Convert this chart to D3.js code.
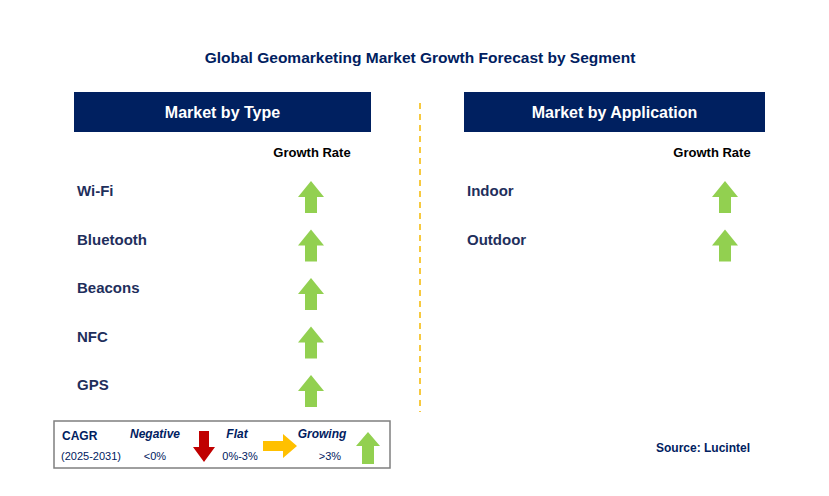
<!DOCTYPE html>
<html>
<head>
<script src="https://cdnjs.cloudflare.com/ajax/libs/d3/7.8.5/d3.min.js"></script>
<style>
  body { margin: 0; background: #fff; }
  svg { font-family: Arial, 'Liberation Sans', sans-serif; }
</style>
</head>
<body>
<svg id="chart" width="829" height="496"></svg>
<script>
  var typeSegments = ["Wi-Fi", "Bluetooth", "Beacons", "NFC", "GPS"];
  var typeGrowth = ["up", "up", "up", "up", "up"];
  var appSegments = ["Indoor", "Outdoor"];
  var appGrowth = ["up", "up"];

  var navy = "#002060";
  var svg = d3.select("#chart");

  svg.append("text").attr("x", 420).attr("y", 63).attr("text-anchor", "middle")
    .attr("font-size", 15.5).attr("font-weight", "bold").attr("fill", navy)
    .text("Global Geomarketing Market Growth Forecast by Segment");

  // divider
  svg.append("line").attr("x1", 420).attr("x2", 420).attr("y1", 103).attr("y2", 412)
    .attr("stroke", "#f5b800").attr("stroke-width", 1.5).attr("stroke-dasharray", "6,5");

  // up arrow, centred on (0,0)
  function upArrow(g, color) {
    g.append("path")
      .attr("d", "M0,-16 L13,0 L6,0 L6,16 L-6,16 L-6,0 L-13,0 Z")
      .attr("fill", color);
  }

  function panel(x0, x1, title, cats, growth, arrowX, headX) {
    svg.append("rect").attr("x", x0).attr("y", 92).attr("width", x1 - x0).attr("height", 40)
      .attr("fill", navy);
    svg.append("text").attr("x", (x0 + x1) / 2).attr("y", 118).attr("text-anchor", "middle")
      .attr("font-size", 16).attr("font-weight", "bold").attr("fill", "#fff").text(title);
    svg.append("text").attr("x", headX).attr("y", 157).attr("text-anchor", "middle")
      .attr("font-size", 13).attr("font-weight", "bold").attr("fill", "#000").text("Growth Rate");

    var y = d3.scaleLinear().domain([0, 1]).range([191, 239.5]);
    cats.forEach(function(c, i) {
      svg.append("text").attr("x", x0 + 3).attr("y", y(i) + 5)
        .attr("font-size", 15).attr("font-weight", "bold").attr("fill", "#1f2f5c").text(c);
      var g = svg.append("g").attr("transform", "translate(" + arrowX + "," + (y(i) + 6) + ")");
      if (growth[i] === "up") upArrow(g, "#92d050");
    });
  }

  panel(74, 371, "Market by Type", typeSegments, typeGrowth, 311, 312);
  panel(464, 765, "Market by Application", appSegments, appGrowth, 725, 712);

  // legend
  svg.append("rect").attr("x", 54).attr("y", 421).attr("width", 336).attr("height", 47)
    .attr("fill", "#fff").attr("stroke", "#7f7f7f").attr("stroke-width", 1.5);
  function t(x, y, s, opts) {
    var e = svg.append("text").attr("x", x).attr("y", y).attr("font-size", opts.size || 12)
      .attr("fill", opts.fill || navy).text(s);
    if (opts.bold) e.attr("font-weight", "bold");
    if (opts.italic) e.attr("font-style", "italic");
    if (opts.anchor) e.attr("text-anchor", opts.anchor);
  }
  t(62, 440, "CAGR", {bold: true, size: 12});
  t(61, 460, "(2025-2031)", {size: 11});
  t(155, 438, "Negative", {bold: true, italic: true, anchor: "middle"});
  t(155, 460, "<0%", {size: 11, anchor: "middle"});
  t(237, 438, "Flat", {bold: true, italic: true, anchor: "middle"});
  t(240, 460, "0%-3%", {size: 11, anchor: "middle"});
  t(322, 438, "Growing", {bold: true, italic: true, anchor: "middle"});
  t(330, 460, ">3%", {size: 11, anchor: "middle"});
  svg.append("path").attr("transform", "translate(204,446)")
    .attr("d", "M-5,-15 L5,-15 L5,1 L11,1 L0,16 L-11,1 L-5,1 Z").attr("fill", "#c00000");
  svg.append("path").attr("transform", "translate(280,446)")
    .attr("d", "M-17,-5 L3,-5 L3,-12 L17,0 L3,12 L3,5 L-17,5 Z").attr("fill", "#ffc000");
  svg.append("path").attr("transform", "translate(368,448)")
    .attr("d", "M0,-16 L12,-2 L6,-2 L6,16 L-6,16 L-6,-2 L-12,-2 Z").attr("fill", "#92d050");

  svg.append("text").attr("x", 750).attr("y", 452).attr("text-anchor", "end")
    .attr("font-size", 12).attr("font-weight", "bold").attr("fill", navy).text("Source: Lucintel");
</script>
</body>
</html>
